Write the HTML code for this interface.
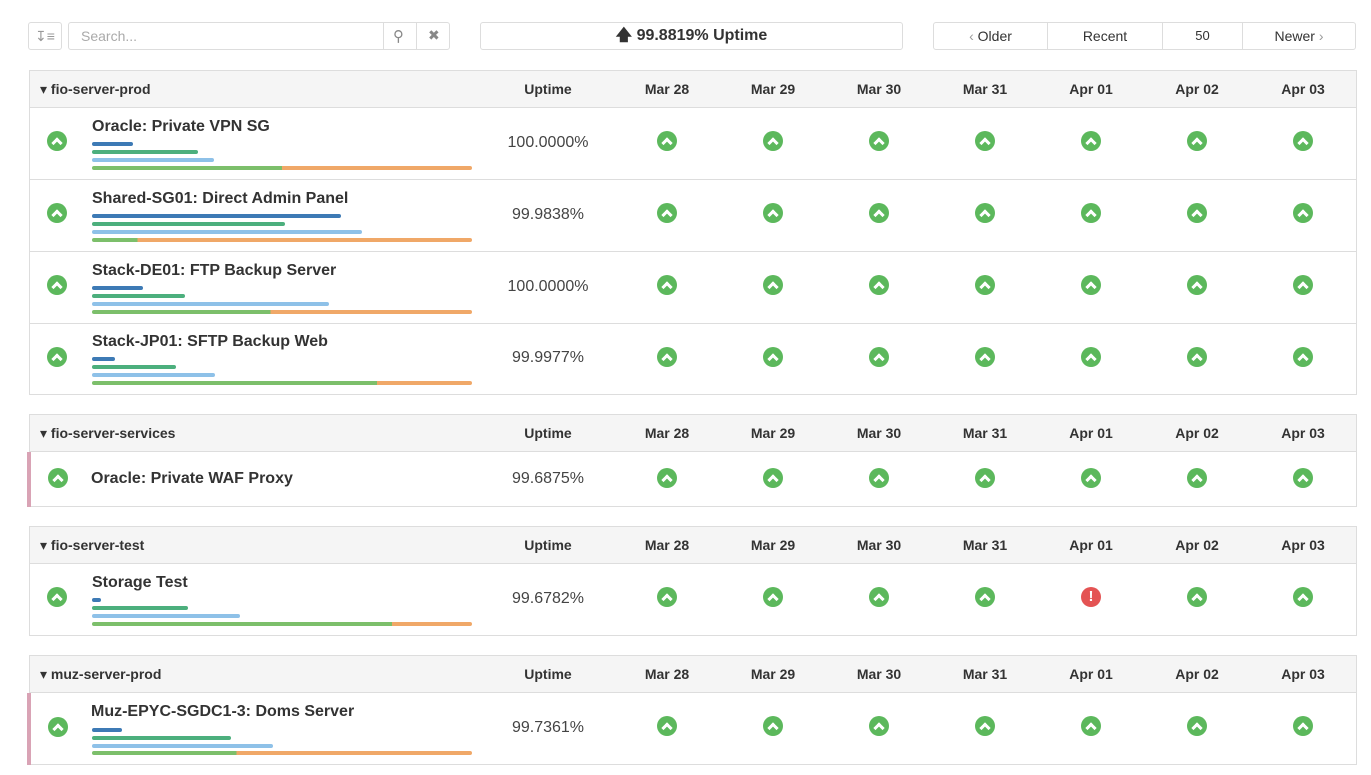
<!DOCTYPE html>
<html><head><meta charset="utf-8"><style>
*{box-sizing:border-box;margin:0;padding:0}
body{width:1371px;height:775px;background:#fff;font-family:"Liberation Sans","DejaVu Sans",sans-serif;color:#333;position:relative;overflow:hidden}
.a{position:absolute}
.btn{position:absolute;border:1px solid #ddd;border-radius:3px;background:#fff;font-size:14px;color:#333;text-align:center;line-height:26px;height:28px;top:22px}
.panel{position:absolute;left:29px;width:1328px;border:1px solid #ddd;background:#fff}
.hd{position:absolute;left:0;width:100%;height:37px;background:#f5f5f5;border-bottom:1px solid #ddd}
.hd span{position:absolute;top:10px;font-size:14px;font-weight:bold;color:#333;transform:translateX(-50%)}
.hd .g{left:10px;transform:none}
.row{position:absolute;left:0;width:100%;border-bottom:1px solid #ddd}
.ic{position:absolute;width:20px;height:20px;border-radius:50%;background:#5cb85c}
.ic:after{content:"";position:absolute;left:6px;top:8px;width:5px;height:5px;border-left:3px solid #fff;border-top:3px solid #fff;transform:rotate(45deg)}
.er{position:absolute;width:20px;height:20px;border-radius:50%;background:#e45353;color:#fff;font-weight:bold;font-size:15px;text-align:center;line-height:20px}
.nm{position:absolute;left:62px;font-size:16px;font-weight:bold;color:#333}
.pc{position:absolute;left:518px;width:0;font-size:16px;color:#444;white-space:nowrap}
.pc b{position:absolute;transform:translateX(-50%);font-weight:normal}
.bar{position:absolute;left:62px;height:4px;border-radius:2px}
.d{background:#3d7ab5}.gr{background:#4caf7d}.l{background:#8ec1e8}
.pk{position:absolute;left:-3px;width:4px;background:#d9a3b5}
</style></head><body>
<div class="btn" style="left:28px;width:34px;color:#999">&#8615;&#8801;</div>
<div class="btn" style="left:68px;width:382px;text-align:left;padding-left:12px;color:#aaa">Search...</div>
<div class="a" style="left:383px;top:23px;width:1px;height:26px;background:#ddd"></div>
<div class="a" style="left:416px;top:23px;width:1px;height:26px;background:#ddd"></div>
<div class="a" style="left:393px;top:27px;font-size:15px;color:#888">&#9906;</div>
<div class="a" style="left:428px;top:27px;font-size:14px;color:#888;font-weight:bold">&#10006;</div>
<div class="btn" style="left:480px;width:423px;font-weight:bold;font-size:16px">&#129093; 99.8819% Uptime</div>
<div class="btn" style="left:933px;width:115px;border-radius:3px 0 0 3px"><span style="color:#999">&#8249;</span> Older</div>
<div class="btn" style="left:1047px;width:116px;border-radius:0">Recent</div>
<div class="btn" style="left:1162px;width:81px;border-radius:0;font-size:13px">50</div>
<div class="btn" style="left:1242px;width:114px;border-radius:0 3px 3px 0">Newer <span style="color:#999">&#8250;</span></div>

<!-- Panel 1 -->
<div class="panel" style="top:70px;height:325px">
<div class="hd" style="top:0"><span class="g">&#9662; fio-server-prod</span><span style="left:518px">Uptime</span><span style="left:637px">Mar 28</span><span style="left:743px">Mar 29</span><span style="left:849px">Mar 30</span><span style="left:955px">Mar 31</span><span style="left:1061px">Apr 01</span><span style="left:1167px">Apr 02</span><span style="left:1273px">Apr 03</span></div>
<div class="row" style="top:37px;height:72px">
<div class="ic" style="left:17px;top:23px"></div><div class="nm" style="top:10px">Oracle: Private VPN SG</div>
<div class="bar d" style="top:34px;width:41px"></div><div class="bar gr" style="top:42px;width:106px"></div><div class="bar l" style="top:50px;width:122px"></div>
<div class="bar" style="top:58px;width:380px;background:linear-gradient(90deg,#7cbf6b 50%,#f0a868 50%)"></div>
<div class="pc" style="top:26px"><b>100.0000%</b></div>
<div class="ic" style="left:627px;top:23px"></div><div class="ic" style="left:733px;top:23px"></div><div class="ic" style="left:839px;top:23px"></div><div class="ic" style="left:945px;top:23px"></div><div class="ic" style="left:1051px;top:23px"></div><div class="ic" style="left:1157px;top:23px"></div><div class="ic" style="left:1263px;top:23px"></div>
</div>
<div class="row" style="top:109px;height:72px">
<div class="ic" style="left:17px;top:23px"></div><div class="nm" style="top:10px">Shared-SG01: Direct Admin Panel</div>
<div class="bar d" style="top:34px;width:249px"></div><div class="bar gr" style="top:42px;width:193px"></div><div class="bar l" style="top:50px;width:270px"></div>
<div class="bar" style="top:58px;width:380px;background:linear-gradient(90deg,#7cbf6b 12%,#f0a868 12%)"></div>
<div class="pc" style="top:26px"><b>99.9838%</b></div>
<div class="ic" style="left:627px;top:23px"></div><div class="ic" style="left:733px;top:23px"></div><div class="ic" style="left:839px;top:23px"></div><div class="ic" style="left:945px;top:23px"></div><div class="ic" style="left:1051px;top:23px"></div><div class="ic" style="left:1157px;top:23px"></div><div class="ic" style="left:1263px;top:23px"></div>
</div>
<div class="row" style="top:181px;height:72px">
<div class="ic" style="left:17px;top:23px"></div><div class="nm" style="top:10px">Stack-DE01: FTP Backup Server</div>
<div class="bar d" style="top:34px;width:51px"></div><div class="bar gr" style="top:42px;width:93px"></div><div class="bar l" style="top:50px;width:237px"></div>
<div class="bar" style="top:58px;width:380px;background:linear-gradient(90deg,#7cbf6b 47%,#f0a868 47%)"></div>
<div class="pc" style="top:26px"><b>100.0000%</b></div>
<div class="ic" style="left:627px;top:23px"></div><div class="ic" style="left:733px;top:23px"></div><div class="ic" style="left:839px;top:23px"></div><div class="ic" style="left:945px;top:23px"></div><div class="ic" style="left:1051px;top:23px"></div><div class="ic" style="left:1157px;top:23px"></div><div class="ic" style="left:1263px;top:23px"></div>
</div>
<div class="row" style="top:253px;height:71px;border-bottom:none">
<div class="ic" style="left:17px;top:23px"></div><div class="nm" style="top:9px">Stack-JP01: SFTP Backup Web</div>
<div class="bar d" style="top:33px;width:23px"></div><div class="bar gr" style="top:41px;width:84px"></div><div class="bar l" style="top:49px;width:123px"></div>
<div class="bar" style="top:57px;width:380px;background:linear-gradient(90deg,#7cbf6b 75%,#f0a868 75%)"></div>
<div class="pc" style="top:25px"><b>99.9977%</b></div>
<div class="ic" style="left:627px;top:23px"></div><div class="ic" style="left:733px;top:23px"></div><div class="ic" style="left:839px;top:23px"></div><div class="ic" style="left:945px;top:23px"></div><div class="ic" style="left:1051px;top:23px"></div><div class="ic" style="left:1157px;top:23px"></div><div class="ic" style="left:1263px;top:23px"></div>
</div>
</div>

<!-- Panel 2 -->
<div class="panel" style="top:414px;height:93px">
<div class="hd" style="top:0"><span class="g">&#9662; fio-server-services</span><span style="left:518px">Uptime</span><span style="left:637px">Mar 28</span><span style="left:743px">Mar 29</span><span style="left:849px">Mar 30</span><span style="left:955px">Mar 31</span><span style="left:1061px">Apr 01</span><span style="left:1167px">Apr 02</span><span style="left:1273px">Apr 03</span></div>
<div class="row" style="top:37px;height:55px;border-bottom:none">
<div class="pk" style="top:0;height:55px"></div>
<div class="ic" style="left:18px;top:16px"></div><div class="nm" style="top:18px;left:61px">Oracle: Private WAF Proxy</div>
<div class="pc" style="top:18px"><b>99.6875%</b></div>
<div class="ic" style="left:627px;top:16px"></div><div class="ic" style="left:733px;top:16px"></div><div class="ic" style="left:839px;top:16px"></div><div class="ic" style="left:945px;top:16px"></div><div class="ic" style="left:1051px;top:16px"></div><div class="ic" style="left:1157px;top:16px"></div><div class="ic" style="left:1263px;top:16px"></div>
</div>
</div>

<!-- Panel 3 -->
<div class="panel" style="top:526px;height:110px">
<div class="hd" style="top:0"><span class="g">&#9662; fio-server-test</span><span style="left:518px">Uptime</span><span style="left:637px">Mar 28</span><span style="left:743px">Mar 29</span><span style="left:849px">Mar 30</span><span style="left:955px">Mar 31</span><span style="left:1061px">Apr 01</span><span style="left:1167px">Apr 02</span><span style="left:1273px">Apr 03</span></div>
<div class="row" style="top:37px;height:72px;border-bottom:none">
<div class="ic" style="left:17px;top:23px"></div><div class="nm" style="top:10px">Storage Test</div>
<div class="bar d" style="top:34px;width:9px"></div><div class="bar gr" style="top:42px;width:96px"></div><div class="bar l" style="top:50px;width:148px"></div>
<div class="bar" style="top:58px;width:380px;background:linear-gradient(90deg,#7cbf6b 79%,#f0a868 79%)"></div>
<div class="pc" style="top:26px"><b>99.6782%</b></div>
<div class="ic" style="left:627px;top:23px"></div><div class="ic" style="left:733px;top:23px"></div><div class="ic" style="left:839px;top:23px"></div><div class="ic" style="left:945px;top:23px"></div><div class="er" style="left:1051px;top:23px">!</div><div class="ic" style="left:1157px;top:23px"></div><div class="ic" style="left:1263px;top:23px"></div>
</div>
</div>

<!-- Panel 4 -->
<div class="panel" style="top:655px;height:110px">
<div class="hd" style="top:0"><span class="g">&#9662; muz-server-prod</span><span style="left:518px">Uptime</span><span style="left:637px">Mar 28</span><span style="left:743px">Mar 29</span><span style="left:849px">Mar 30</span><span style="left:955px">Mar 31</span><span style="left:1061px">Apr 01</span><span style="left:1167px">Apr 02</span><span style="left:1273px">Apr 03</span></div>
<div class="row" style="top:37px;height:72px;border-bottom:none">
<div class="pk" style="top:0;height:72px"></div>
<div class="ic" style="left:18px;top:24px"></div><div class="nm" style="top:10px;left:61px">Muz-EPYC-SGDC1-3: Doms Server</div>
<div class="bar d" style="top:35px;width:30px"></div><div class="bar gr" style="top:43px;width:139px"></div><div class="bar l" style="top:51px;width:181px"></div>
<div class="bar" style="top:58px;width:380px;background:linear-gradient(90deg,#7cbf6b 38%,#f0a868 38%)"></div>
<div class="pc" style="top:26px"><b>99.7361%</b></div>
<div class="ic" style="left:627px;top:23px"></div><div class="ic" style="left:733px;top:23px"></div><div class="ic" style="left:839px;top:23px"></div><div class="ic" style="left:945px;top:23px"></div><div class="ic" style="left:1051px;top:23px"></div><div class="ic" style="left:1157px;top:23px"></div><div class="ic" style="left:1263px;top:23px"></div>
</div>
</div>
</body></html>
